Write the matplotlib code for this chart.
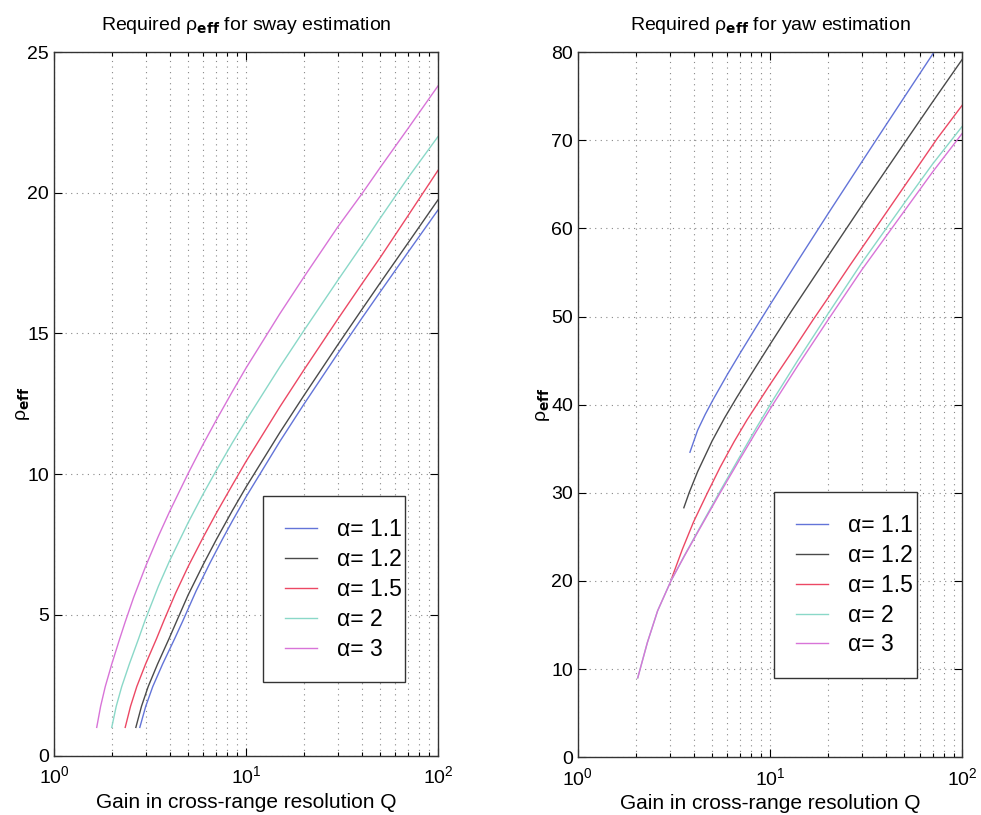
import matplotlib
matplotlib.use("Agg")
import matplotlib.pyplot as plt
from matplotlib.ticker import LogLocator, NullFormatter

plt.rcParams['font.family'] = ['Liberation Sans', 'DejaVu Sans']
plt.rcParams['mathtext.default'] = 'regular'

alphas = ["1.1", "1.2", "1.5", "2", "3"]
colors = ["#6374d8", "#4a4a4a", "#ec4864", "#8ad8c8", "#d874d8"]

# sway estimation (left)
sway_q_11 = [2.8, 3.006, 3.27, 3.68, 4.25, 4.7, 5.5, 6.5, 7.5, 8.5, 10, 15, 20, 30, 40, 50, 70, 100]
sway_r_11 = [1.0, 1.75, 2.45, 3.25, 4.15, 4.8, 5.85, 6.85, 7.66, 8.34, 9.19, 11.16, 12.48, 14.28, 15.53, 16.48, 17.9, 19.39]
sway_q_12 = [2.67, 2.857, 3.095, 3.464, 3.973, 4.37, 5, 6, 7, 8.5, 10, 15, 20, 30, 40, 50, 70, 100]
sway_r_12 = [1.0, 1.75, 2.45, 3.25, 4.15, 4.8, 5.71, 6.8, 7.67, 8.71, 9.54, 11.48, 12.79, 14.59, 15.84, 16.8, 18.23, 19.75]
sway_q_15 = [2.35, 2.505, 2.7, 3.0, 3.42, 3.74, 4.3, 5, 6, 7, 8.5, 10, 15, 20, 30, 40, 50, 70, 100]
sway_r_15 = [1.0, 1.75, 2.45, 3.25, 4.15, 4.8, 5.77, 6.72, 7.77, 8.61, 9.62, 10.45, 12.39, 13.7, 15.5, 16.75, 17.7, 19.2, 20.8]
sway_q_2 = [2.0, 2.11, 2.254, 2.469, 2.758, 2.98, 3.5, 4, 5, 6, 7, 8.5, 10, 15, 20, 30, 40, 50, 70, 100]
sway_r_2 = [1.0, 1.75, 2.45, 3.25, 4.15, 4.8, 6.02, 6.92, 8.28, 9.31, 10.13, 11.12, 11.91, 13.81, 15.1, 16.88, 18.12, 19.1, 20.55, 22.0]
sway_q_3 = [1.67, 1.75, 1.85, 2.0, 2.2, 2.35, 2.6, 3, 3.5, 4, 5, 6, 7, 8.5, 10, 15, 20, 30, 40, 50, 70, 100]
sway_r_3 = [1.0, 1.75, 2.45, 3.25, 4.15, 4.75, 5.62, 6.72, 7.8, 8.67, 10.03, 11.08, 11.92, 12.94, 13.77, 15.7, 17.0, 18.78, 19.95, 20.9, 22.3, 23.8]

# yaw estimation (right)
yaw_q_11 = [3.83, 4.2, 4.6, 5.05, 6, 7, 8.5, 10, 14, 20, 30, 40, 55, 70.5]
yaw_r_11 = [34.6, 37.1, 38.9, 40.56, 43.44, 45.88, 48.87, 51.34, 56.38, 61.65, 67.55, 71.71, 76.3, 79.86]
yaw_q_12 = [3.56, 3.8, 4.2, 5, 5.8, 6.7, 8, 10, 12.9, 20, 30, 50, 70, 100]
yaw_r_12 = [28.3, 30.05, 32.4, 35.9, 38.5, 40.8, 43.5, 46.85, 50.6, 56.85, 62.6, 69.7, 74.35, 79.2]
yaw_q_15 = [3.09, 3.5, 4, 4.7, 5.5, 6.5, 7.6, 8.9, 10, 13, 16.7, 20, 26, 35.8, 50, 74, 100]
yaw_r_15 = [20.4, 23.6, 26.7, 29.9, 32.9, 35.8, 38.3, 40.6, 42.3, 46.0, 49.6, 52.1, 55.8, 60.2, 64.8, 70.2, 74.0]
yaw_q_2 = [2.05, 2.3, 2.6, 3.05, 3.6, 4.3, 5.5, 7, 8.5, 10.4, 14, 20, 30, 50, 70, 100]
yaw_r_2 = [9.0, 13.0, 16.6, 20.0, 22.95, 26.0, 30.2, 34.2, 37.4, 40.6, 45.1, 50.3, 56.1, 62.9, 67.3, 71.6]
yaw_q_3 = [2.05, 2.3, 2.6, 3.05, 3.6, 4.3, 5.5, 7, 8.5, 10.4, 14, 20, 30, 50, 70, 100]
yaw_r_3 = [9.0, 13.0, 16.6, 20.0, 22.9, 25.9, 30.0, 33.9, 37.0, 40.1, 44.5, 49.6, 55.3, 62.0, 66.4, 70.8]

sway_q = [sway_q_11, sway_q_12, sway_q_15, sway_q_2, sway_q_3]
sway_rho = [sway_r_11, sway_r_12, sway_r_15, sway_r_2, sway_r_3]
yaw_q = [yaw_q_11, yaw_q_12, yaw_q_15, yaw_q_2, yaw_q_3]
yaw_rho = [yaw_r_11, yaw_r_12, yaw_r_15, yaw_r_2, yaw_r_3]


def style_axes(ax, ymax, yticks, title):
    ax.set_xscale("log")
    ax.set_xlim(1, 100)
    ax.set_ylim(0, ymax)
    ax.set_yticks(yticks)
    ax.xaxis.set_minor_locator(LogLocator(base=10, subs=range(2, 10)))
    ax.xaxis.set_minor_formatter(NullFormatter())
    ax.tick_params(which="both", direction="in", top=True, right=True,
                   labelsize=14, width=0.8)
    ax.tick_params(which="major", length=6)
    ax.tick_params(which="minor", length=3)
    ax.tick_params(axis="x", pad=7)
    ax.grid(True, which="both", axis="x", linestyle=(0, (1, 4)), color="#888888", linewidth=0.8)
    ax.grid(True, which="major", axis="y", linestyle=(0, (1, 4)), color="#888888", linewidth=0.8)
    for s in ax.spines.values():
        s.set_linewidth(1.0)
        s.set_color("#333333")
    ax.set_xlabel("Gain in cross-range resolution Q", fontsize=15, labelpad=4)
    ax.set_ylabel(r"$\rho_{\mathbf{eff}}$", fontsize=14)
    ax.set_title(r"Required $\rho_{\mathbf{eff}}$ for " + title, fontsize=14, pad=16)


fig = plt.figure(figsize=(9.81, 8.15), dpi=100)
ax1 = fig.add_axes([0.055, 0.073, 0.3915, 0.863])
ax2 = fig.add_axes([0.589, 0.071, 0.392, 0.865])

for q, r, c, a in zip(sway_q, sway_rho, colors, alphas):
    ax1.plot(q, r, color=c, linewidth=1.0, label="\u03b1= " + a)
for q, r, c, a in zip(yaw_q, yaw_rho, colors, alphas):
    ax2.plot(q, r, color=c, linewidth=1.0, label="\u03b1= " + a)

style_axes(ax1, 25, [0, 5, 10, 15, 20, 25], "sway estimation")
style_axes(ax2, 80, [0, 10, 20, 30, 40, 50, 60, 70, 80], "yaw estimation")
ax1.yaxis.set_label_coords(-0.057, 0.5)
ax2.yaxis.set_label_coords(-0.068, 0.5)

for ax, anchor in [(ax1, (0.544, 0.104, 0.37, 0.247)), (ax2, (0.51, 0.112, 0.373, 0.247))]:
    leg = ax.legend(loc="lower left", bbox_to_anchor=anchor, mode="expand",
                    borderaxespad=0, fontsize=16.5, handlelength=1.4,
                    handletextpad=0.9, labelspacing=0.3, borderpad=0.95,
                    fancybox=False, framealpha=1, edgecolor="#333333")
    leg.get_frame().set_linewidth(1.0)

fig.savefig("out.png", dpi=100)
